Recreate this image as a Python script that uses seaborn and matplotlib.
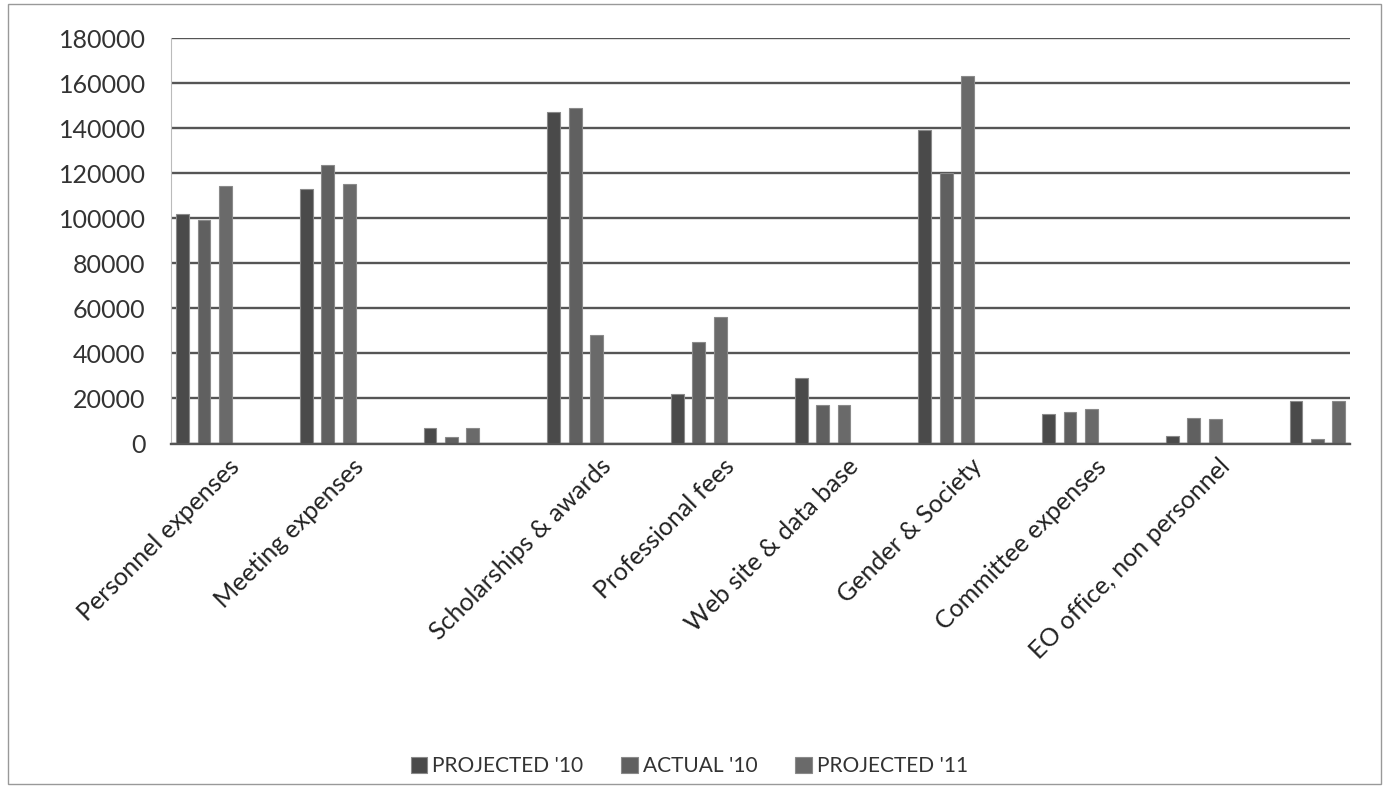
import pandas as pd
import numpy as np
import seaborn as sns
import matplotlib.pyplot as plt
import matplotlib.transforms as mtransforms
from matplotlib.patches import Rectangle

# values
categories = ['Personnel expenses', 'Meeting expenses', ' ', 'Scholarships & awards',
              'Professional fees', 'Web site & data base', 'Gender & Society',
              'Committee expenses', 'EO office, non personnel', '  ']
projected_10 = [102000, 113000, 7000, 147000, 22000, 29000, 139000, 13000, 3500, 19000]
actual_10 = [99000, 123500, 3000, 149000, 45000, 17000, 120000, 14000, 11500, 2000]
projected_11 = [114500, 115000, 7000, 48000, 56000, 17000, 163000, 15500, 11000, 19000]
series = ["PROJECTED '10", "ACTUAL '10", "PROJECTED '11"]

df = pd.DataFrame({
    'Category': categories * 3,
    'Series': [series[0]] * 10 + [series[1]] * 10 + [series[2]] * 10,
    'Value': projected_10 + actual_10 + projected_11,
})

sns.set_style("white")
plt.rcParams['font.family'] = ['Lato', 'DejaVu Sans']

fig = plt.figure(figsize=(13.87, 7.92), dpi=100)
ax = fig.add_axes([0.123, 0.44, 0.85, 0.512])

palette = ['#4a4a4a', '#606060', '#6a6a6a']
sns.barplot(data=df, x='Category', y='Value', hue='Series', palette=palette,
            width=0.52, gap=0.4, ax=ax, edgecolor='#8a8a8a', linewidth=0.8)

ax.set_ylim(0, 180000)
ax.set_yticks(np.arange(0, 180001, 20000))
ax.set_yticklabels([str(v) for v in range(0, 180001, 20000)], fontsize=18, color='#333333')
ax.yaxis.grid(True, color='#555555', linewidth=1.7)
ax.set_axisbelow(True)
ax.tick_params(axis='y', length=0, pad=18)
ax.tick_params(axis='x', length=0, pad=8)
ax.set_xlim(-0.27, 9.26)

ax.set_xticks(range(len(categories)))
ax.set_xticklabels(categories, rotation=45, ha='right', rotation_mode='anchor',
                   fontsize=18, color='#222222')
shift = mtransforms.ScaledTranslation(24 / 100, 0, fig.dpi_scale_trans)
for lbl in ax.get_xticklabels():
    lbl.set_transform(lbl.get_transform() + shift)

ax.set_xlabel('')
ax.set_ylabel('')
for side in ['top', 'right']:
    ax.spines[side].set_visible(False)
ax.spines['left'].set_color('#bbbbbb')
ax.spines['left'].set_linewidth(0.8)
ax.spines['bottom'].set_color('#555555')
ax.spines['bottom'].set_linewidth(1.7)

leg = ax.legend(loc='center', bbox_to_anchor=(0.44, -0.795), ncol=3,
                frameon=False, fontsize=15, handlelength=0.8, handleheight=0.8,
                handletextpad=0.25, columnspacing=1.8)
for t in leg.get_texts():
    t.set_color('#333333')

# outer border of the scanned chart
fig.patches.append(Rectangle((0.006, 0.01), 0.99, 0.985, transform=fig.transFigure,
                             fill=False, edgecolor='#999999', linewidth=1.0))

fig.savefig('out.png', dpi=100)
